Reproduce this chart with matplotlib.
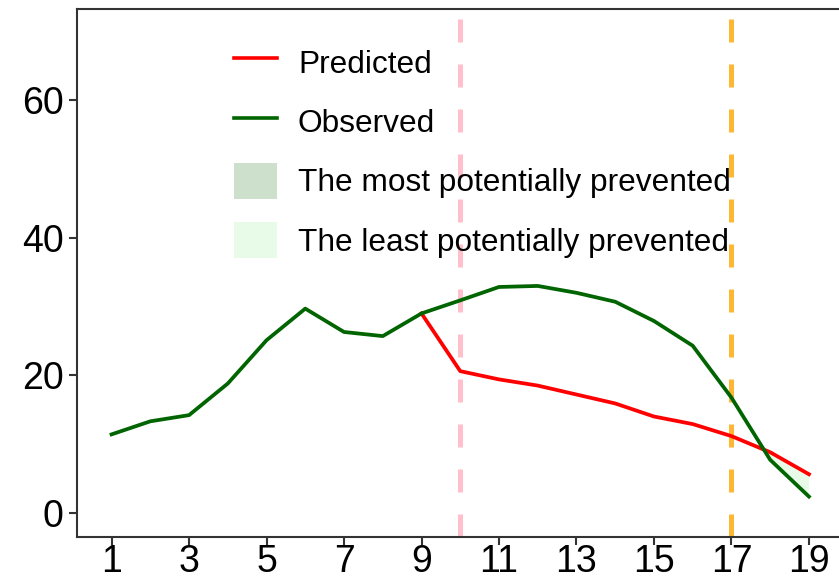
import matplotlib
matplotlib.use("Agg")
import matplotlib.pyplot as plt
import numpy as np
from matplotlib.lines import Line2D
from matplotlib.patches import Patch

plt.rcParams['font.family'] = ['Liberation Sans', 'DejaVu Sans']

# Data
x_obs = [1, 2, 3, 4, 5, 6, 7, 8, 9, 10, 11, 12, 13, 14, 15, 16, 17, 18, 19]
observed = [11.4, 13.3, 14.2, 18.8, 25.1, 29.7, 26.3, 25.7, 29.0, 30.9, 32.85,
            33.0, 32.0, 30.7, 27.9, 24.3, 16.75, 7.7, 2.35]
x_pred = [9, 10, 11, 12, 13, 14, 15, 16, 17, 18, 19]
predicted = [29.0, 20.6, 19.4, 18.5, 17.2, 15.9, 14.0, 12.9, 11.15, 8.8, 5.6]
vline_intervention = 10
vline_end = 17
x_ticks = [1, 3, 5, 7, 9, 11, 13, 15, 17, 19]
y_ticks = [0, 20, 40, 60]
legend_labels = ["Predicted", "Observed", "The most potentially prevented",
                 "The least potentially prevented"]

W, H = 839, 582
fig = plt.figure(figsize=(W / 100, H / 100), dpi=100)
left, right, top, bottom = 76.7, 843.8, 9.0, 536.7
ax = fig.add_axes([left / W, (H - bottom) / H, (right - left) / W, (bottom - top) / H])

# ribbon (least potentially prevented) where predicted exceeds observed
obs_sub = np.array(observed[8:])
pred_arr = np.array(predicted)
xp = np.array(x_pred)
ax.fill_between(xp, obs_sub, pred_arr, where=pred_arr >= obs_sub, interpolate=True,
                color='#90EE90', alpha=0.2, linewidth=0)

ax.axvline(vline_intervention, color='#FFC0CB', lw=3.6, dashes=(4.6, 4.4), zorder=1)
ax.axvline(vline_end, color='#FFA500', alpha=0.8, lw=3.6, dashes=(4.6, 4.4), zorder=1)

ax.plot(x_pred, predicted, color='#FF0000', lw=2.7, solid_joinstyle='round', zorder=3)
ax.plot(x_obs, observed, color='#006400', lw=2.7, solid_joinstyle='round', zorder=4)

ax.set_xlim(0.1, 19.9)
ax.set_ylim(-3.49, 73.3)
ax.set_xticks(x_ticks)
ax.set_yticks(y_ticks)
ax.tick_params(axis='both', length=5.5, width=1.5, color='#333333', labelsize=27,
               labelcolor='black')
ax.tick_params(axis='y', pad=4)
ax.tick_params(axis='x', pad=0)
for s in ax.spines.values():
    s.set_color('#333333')
    s.set_linewidth(1.5)

handles = [
    Line2D([], [], color='#FF0000', lw=2.6),
    Line2D([], [], color='#006400', lw=2.6),
    Patch(facecolor='#006400', alpha=0.2, edgecolor='none'),
    Patch(facecolor='#90EE90', alpha=0.2, edgecolor='none'),
]
leg = fig.legend(handles, legend_labels, loc='upper left',
                 bbox_to_anchor=(234 / W, 1 - 44 / H), frameon=False,
                 fontsize=22.8, handlelength=1.37, handleheight=1.37,
                 handletextpad=0.65, labelspacing=0.74, borderpad=0,
                 borderaxespad=0)

fig.savefig("out.png", dpi=100)
